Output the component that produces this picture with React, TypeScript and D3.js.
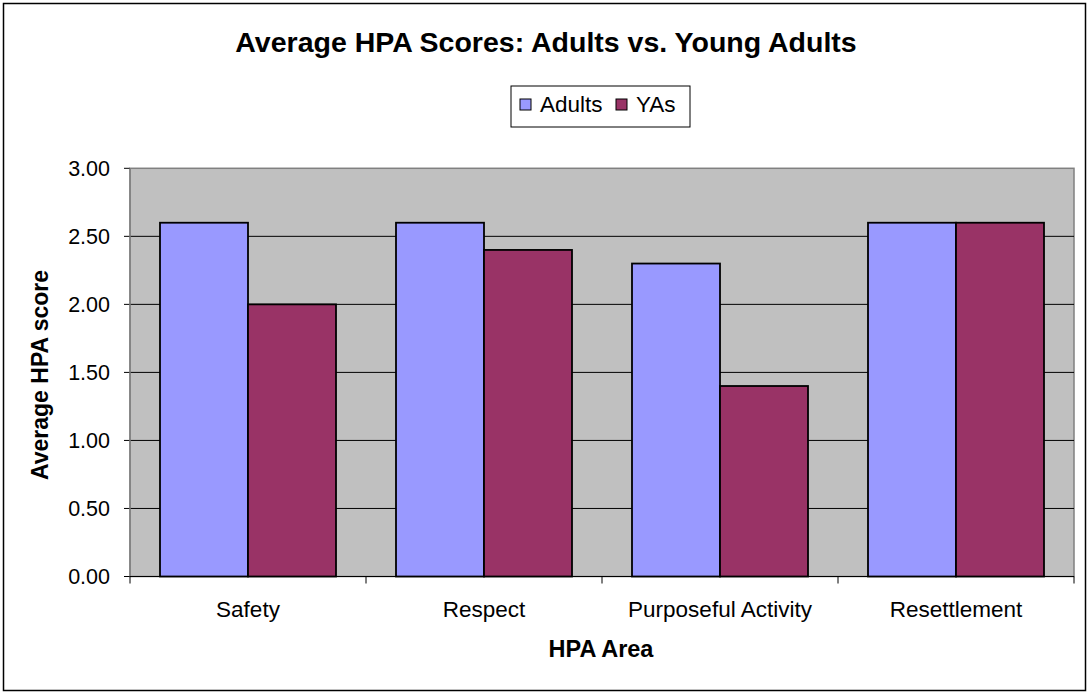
import React from "react";
import * as d3 from "d3";

const categories = ["Safety", "Respect", "Purposeful Activity", "Resettlement"];
const seriesNames = ["Adults", "YAs"];
const adults = [2.6, 2.6, 2.3, 2.6];
const yas = [2.0, 2.4, 1.4, 2.6];
const yTicks = [0, 0.5, 1, 1.5, 2, 2.5, 3];
const colors = ["#9999FF", "#993366"];

const W = 1090;
const H = 693;
const plot = { left: 130, right: 1074, top: 168.3, bottom: 576.5 };
const FONT = "'Liberation Sans', Arial, sans-serif";

export default function App() {
  const x = d3.scaleBand<string>().domain(categories).range([plot.left, plot.right]);
  const bw = x.bandwidth();
  const gap = bw * (60 / 236);
  const xs = d3.scaleBand<string>().domain(seriesNames).range([gap / 2, bw - gap / 2]);
  const y = d3.scaleLinear().domain([0, 3]).range([plot.bottom, plot.top]);
  const values = [adults, yas];
  const fmt = d3.format(".2f");

  return (
    <svg width={W} height={H} style={{ position: "absolute", left: 0, top: 0 }} fontFamily={FONT}>
      <rect x={0} y={0} width={W} height={H} fill="#fff" />
      <rect x={3.5} y={3.5} width={1082} height={687} fill="#fff" stroke="#000" strokeWidth={1.5} />
      <text x={546} y={52} textAnchor="middle" fontSize={28.5} fontWeight="bold" fill="#000">
        Average HPA Scores: Adults vs. Young Adults
      </text>

      {/* plot area */}
      <rect x={plot.left} y={plot.top} width={plot.right - plot.left} height={plot.bottom - plot.top} fill="#C0C0C0" stroke="#808080" strokeWidth={1.5} />
      {yTicks.map((t) => (
        <g key={t}>
          {t > 0 && t < 3 && (
            <line x1={plot.left} x2={plot.right} y1={y(t)} y2={y(t)} stroke="#000" strokeWidth={1} />
          )}
          <line x1={plot.left - 6} x2={plot.left} y1={y(t)} y2={y(t)} stroke="#000" strokeWidth={1} />
          <text x={110} y={y(t)} dy="0.36em" textAnchor="end" fontSize={21.5} fill="#000">
            {fmt(t)}
          </text>
        </g>
      ))}
      <line x1={plot.left} x2={plot.left} y1={plot.top} y2={plot.bottom} stroke="#808080" strokeWidth={1.5} />

      {categories.map((c, i) => (
        <g key={c}>
          {seriesNames.map((s, j) => (
            <rect
              key={s}
              x={(x(c) as number) + (xs(s) as number)}
              y={y(values[j][i])}
              width={xs.bandwidth()}
              height={y(0) - y(values[j][i])}
              fill={colors[j]}
              stroke="#000"
              strokeWidth={1.8}
            />
          ))}
          <text x={(x(c) as number) + bw / 2} y={617} textAnchor="middle" fontSize={22.5} fill="#000">
            {c}
          </text>
        </g>
      ))}
      <line x1={plot.left} x2={plot.right} y1={plot.bottom} y2={plot.bottom} stroke="#000" strokeWidth={1} />
      {[...categories.map((c) => x(c) as number), plot.right].map((v, i) => (
        <line key={i} x1={v} x2={v} y1={plot.bottom} y2={plot.bottom + 7} stroke="#000" strokeWidth={1} />
      ))}

      <text x={601} y={657} textAnchor="middle" fontSize={23.5} fontWeight="bold" fill="#000">
        HPA Area
      </text>
      <text transform={`translate(48,375) rotate(-90)`} textAnchor="middle" fontSize={23} fontWeight="bold" fill="#000">
        Average HPA score
      </text>

      {/* legend */}
      <rect x={511} y={86} width={179} height={41} fill="#fff" stroke="#000" strokeWidth={1} />
      {seriesNames.map((s, j) => {
        const sx = j === 0 ? 520 : 616;
        return (
          <g key={s}>
            <rect x={sx} y={99} width={11} height={11} fill={colors[j]} stroke="#000" strokeWidth={1} />
            <text x={sx + 20} y={112} fontSize={22.5} fill="#000">
              {s}
            </text>
          </g>
        );
      })}
    </svg>
  );
}
